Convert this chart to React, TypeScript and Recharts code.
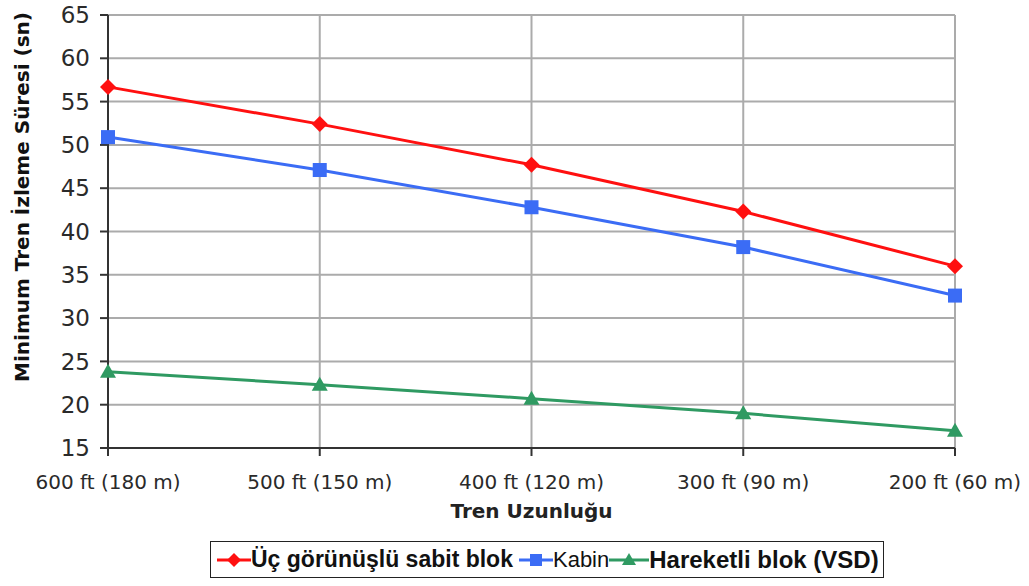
import { LineChart, Line, XAxis, YAxis, CartesianGrid } from 'recharts';

const lengths = ['600 ft (180 m)', '500 ft (150 m)', '400 ft (120 m)', '300 ft (90 m)', '200 ft (60 m)'];
const fixedBlock = [56.7, 52.4, 47.7, 42.3, 36.0];
const cab = [50.9, 47.1, 42.8, 38.2, 32.6];
const movingBlock = [23.8, 22.3, 20.7, 19.0, 17.0];
const yTicks = [15, 20, 25, 30, 35, 40, 45, 50, 55, 60, 65];

const data = lengths.map((name, i) => ({
  name,
  fixed: fixedBlock[i],
  cab: cab[i],
  moving: movingBlock[i],
}));

const RED = '#ff1010';
const BLUE = '#3b6cf5';
const GREEN = '#2f9a62';
const TICK_FONT = '"DejaVu Sans", Verdana, sans-serif';
const LEGEND_FONT = 'Arial, "Liberation Sans", sans-serif';

const Diamond = ({ cx, cy }: { cx?: number; cy?: number }) => {
  if (cx == null || cy == null) return null;
  return <path d={`M${cx},${cy - 8}L${cx + 8},${cy}L${cx},${cy + 8}L${cx - 8},${cy}Z`} fill={RED} />;
};

const Square = ({ cx, cy }: { cx?: number; cy?: number }) => {
  if (cx == null || cy == null) return null;
  return <rect x={cx - 7} y={cy - 7} width={14} height={14} fill={BLUE} />;
};

const Triangle = ({ cx, cy }: { cx?: number; cy?: number }) => {
  if (cx == null || cy == null) return null;
  return <path d={`M${cx},${cy - 8}L${cx + 8},${cy + 6}L${cx - 8},${cy + 6}Z`} fill={GREEN} />;
};

const LegendMark = ({ color, shape, width = 34 }: { color: string; shape: 'd' | 's' | 't'; width?: number }) => {
  const m = width / 2;
  return (
    <svg width={width} height={18} style={{ flex: 'none' }}>
      <line x1={0} y1={9} x2={width} y2={9} stroke={color} strokeWidth={3} />
      {shape === 'd' && <path d={`M${m},2L${m + 7},9L${m},16L${m - 7},9Z`} fill={color} />}
      {shape === 's' && <rect x={m - 6} y={3} width={12} height={12} fill={color} />}
      {shape === 't' && <path d={`M${m},2L${m + 7},14L${m - 7},14Z`} fill={color} />}
    </svg>
  );
};

const ChartLegend = () => (
  <div
    style={{
      position: 'absolute',
      left: 210,
      top: 541,
      height: 35,
      display: 'flex',
      alignItems: 'center',
      border: '1.5px solid #222',
      padding: '0 4px 0 6px',
      fontFamily: LEGEND_FONT,
      color: '#111',
      background: '#fff',
      whiteSpace: 'nowrap',
    }}
  >
    <LegendMark color={RED} shape="d" />
    <span style={{ fontSize: 23, fontWeight: 'bold', marginRight: 6 }}>Üç görünüşlü sabit blok</span>
    <LegendMark color={BLUE} shape="s" />
    <span style={{ fontSize: 22 }}>Kabin</span>
    <LegendMark color={GREEN} shape="t" width={40} />
    <span style={{ fontSize: 24, fontWeight: 'bold' }}>Hareketli blok (VSD)</span>
  </div>
);

// rotated axis title, sitting a little above the plot's middle
const YTitle = () => (
  <text
    x={29}
    y={197}
    transform="rotate(-90 29 197)"
    textAnchor="middle"
    fontSize={20}
    fontWeight="bold"
    fill="#111"
    fontFamily={TICK_FONT}
  >
    Minimum Tren İzleme Süresi (sn)
  </text>
);

export default function App() {
  return (
    <div style={{ position: 'absolute', left: 0, top: 0, width: 1029, height: 586, background: '#fff' }}>
      <LineChart width={1029} height={586} data={data} margin={{ top: 15, right: 74, bottom: 108, left: 0 }}>
        <CartesianGrid stroke="#ababab" strokeWidth={2} />
        <XAxis
          dataKey="name"
          height={30}
          stroke="#333"
          strokeWidth={2}
          tickSize={8}
          tickMargin={19}
          tick={{ fontSize: 20, fill: '#2a2a2a', fontFamily: TICK_FONT }}
          label={{
            value: 'Tren Uzunluğu',
            position: 'insideBottom',
            offset: -40,
            style: { fontSize: 20, fontWeight: 'bold', fill: '#222', fontFamily: TICK_FONT },
          }}
        />
        <YAxis
          domain={[15, 65]}
          ticks={yTicks}
          width={108}
          stroke="#333"
          strokeWidth={2}
          tickSize={8}
          tickMargin={10}
          tick={{ fontSize: 23, fill: '#2a2a2a', fontFamily: TICK_FONT }}
          label={<YTitle />}
        />
        <Line dataKey="fixed" stroke={RED} strokeWidth={3} dot={<Diamond />} isAnimationActive={false} />
        <Line dataKey="cab" stroke={BLUE} strokeWidth={3} dot={<Square />} isAnimationActive={false} />
        <Line dataKey="moving" stroke={GREEN} strokeWidth={3} dot={<Triangle />} isAnimationActive={false} />
      </LineChart>
      <ChartLegend />
    </div>
  );
}
